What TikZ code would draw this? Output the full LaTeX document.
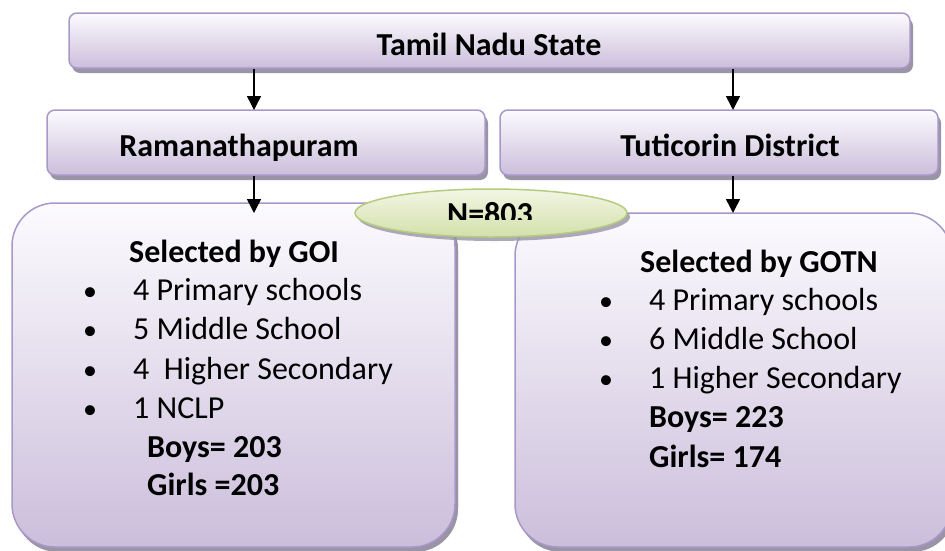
\documentclass[tikz,border=0pt]{standalone}
\usepackage{fontspec}
\setmainfont{Carlito}
\usetikzlibrary{shadows,arrows.meta,shapes.geometric}
\definecolor{bord}{HTML}{A898C8}
\definecolor{lav}{HTML}{CBBEDB}
\definecolor{lavtop}{HTML}{FCFBFE}
\definecolor{shad}{HTML}{9A94A6}
\definecolor{gbord}{HTML}{B5CB80}
\definecolor{gtop}{HTML}{F2F6E4}
\definecolor{gbot}{HTML}{D3E0AA}
\begin{document}
\begin{tikzpicture}[x=1pt,y=-1pt,
  box/.style={draw=bord, line width=1.5pt, rounded corners=8pt, inner sep=0pt,
    top color=lavtop, bottom color=lav,
    drop shadow={shadow xshift=3pt, shadow yshift=-5pt, fill=shad, opacity=1}},
  bigbox/.style={box, rounded corners=43pt,
    drop shadow={shadow xshift=3pt, shadow yshift=-3pt, fill=shad, opacity=1}},
  oval/.style={ellipse, draw=gbord, line width=1.5pt, inner sep=0pt,
    top color=gtop, bottom color=gbot,
    drop shadow={shadow xshift=3pt, shadow yshift=-4pt, fill=shad, opacity=0.8}},
  hdr/.style={font=\fontsize{32}{38}\selectfont\bfseries, inner sep=0pt},
  txt/.style={font=\fontsize{32}{38}\selectfont, inner sep=0pt},
  bul/.style={font=\fontsize{28}{32}\selectfont, inner sep=0pt},
  arr/.style={line width=1.5pt, -{Triangle[length=14pt,width=14pt]}}
]
\useasboundingbox (0,0) rectangle (945,550);
\clip (0,0) rectangle (945,550);

% boxes
\node[box, minimum width=841pt, minimum height=55pt] (top) at (489.5,40.5) {};
\node[box, minimum width=438pt, minimum height=65pt] (rama) at (266,142.5) {};
\node[box, minimum width=438pt, minimum height=65pt] (tuti) at (719,142.5) {};
\node[bigbox, minimum width=443pt, minimum height=344pt] (left) at (233.5,375) {};
\node[bigbox, minimum width=437pt, minimum height=334pt] (right) at (733.5,380) {};

% arrows
\coordinate (t1) at (254,110);
\coordinate (t2) at (733,110);
\coordinate (t3) at (254,213);
\coordinate (t4) at (733,213);
\draw[arr] (t1 |- top.south) -- (t1);
\draw[arr] (t2 |- top.south) -- (t2);
\draw[arr] (t3 |- rama.south) -- (t3);
\draw[arr] (t4 |- tuti.south) -- (t4);

% oval
\node[oval, minimum width=272pt, minimum height=48pt] (n) at (491,213) {};
\begin{scope}
  \clip (420,195) rectangle (560,219);
  \node[hdr, anchor=base] (ntext) at (490,224) {N=803};
\end{scope}

% header texts
\node[hdr, anchor=base] (ttop) at (489,55) {Tamil Nadu State};
\node[hdr, anchor=base] (trama) at (239,156) {Ramanathapuram};
\node[hdr, anchor=base] (ttuti) at (730,156) {Tuticorin District};

% left box text
\node[hdr, anchor=base west] (l0) at (129,262) {Selected by GOI};
\node[bul, anchor=base] (lb1) at (90,300) {•};
\node[bul, anchor=base] (lb2) at (90,339) {•};
\node[bul, anchor=base] (lb3) at (90,379) {•};
\node[bul, anchor=base] (lb4) at (90,418) {•};
\node[txt, anchor=base west] (l1) at (133,300) {4 Primary schools};
\node[txt, anchor=base west] (l2) at (133,339) {5 Middle School};
\node[txt, anchor=base west] (l3) at (133,379) {4\ \ Higher Secondary};
\node[txt, anchor=base west] (l4) at (133,418) {1 NCLP};
\node[hdr, anchor=base west] (l5) at (147,457) {Boys= 203};
\node[hdr, anchor=base west] (l6) at (147,495) {Girls =203};

% right box text
\node[hdr, anchor=base west] (r0) at (640,272) {Selected by GOTN};
\node[bul, anchor=base] (rb1) at (606,310) {•};
\node[bul, anchor=base] (rb2) at (606,349) {•};
\node[bul, anchor=base] (rb3) at (606,388) {•};
\node[txt, anchor=base west] (r1) at (649,310) {4 Primary schools};
\node[txt, anchor=base west] (r2) at (649,349) {6 Middle School};
\node[txt, anchor=base west] (r3) at (649,388) {1 Higher Secondary};
\node[hdr, anchor=base west] (r4) at (649,427) {Boys= 223};
\node[hdr, anchor=base west] (r5) at (649,467) {Girls= 174};
\end{tikzpicture}
\end{document}
